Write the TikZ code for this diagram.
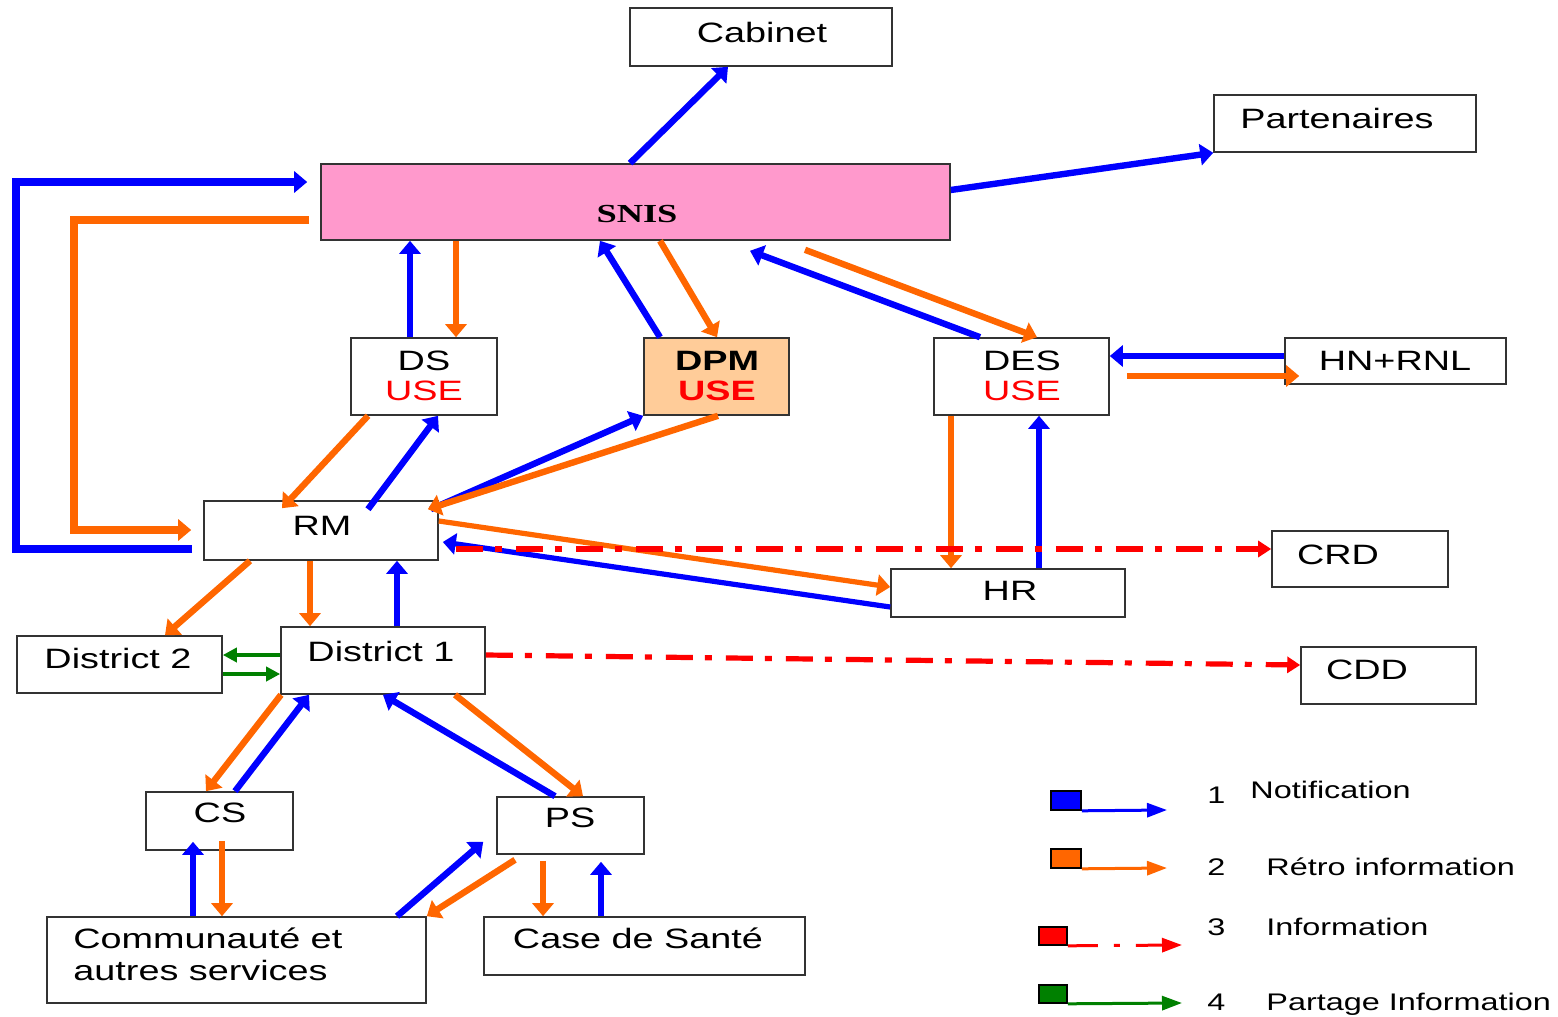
\documentclass[tikz,border=0pt]{standalone}
\usepackage{fontspec}
\setmainfont{Liberation Sans}[FakeStretch=1.35]
\newfontfamily\snisfont{Liberation Serif}[FakeStretch=1.4]
\usepackage{tikz}
\usetikzlibrary{arrows.meta,calc,fit,positioning}
\definecolor{notifblue}{RGB}{0,0,255}
\definecolor{retroorange}{RGB}{255,102,0}
\definecolor{infored}{RGB}{255,0,0}
\definecolor{sharegreen}{RGB}{0,128,0}
\definecolor{snispink}{RGB}{255,153,204}
\definecolor{dpmpeach}{RGB}{255,204,153}

\begin{document}
\begin{tikzpicture}[x=0.5pt,y=-0.5pt,
    box/.style={draw=black!80, line width=0.8pt, inner sep=0pt},
    swatch/.style={draw=black, line width=0.8pt, inner sep=0pt},
    txt/.style={anchor=base, inner sep=0pt, font=\fontsize{14pt}{15pt}\selectfont},
    lgtxt/.style={anchor=base west, inner sep=0pt, font=\fontsize{12pt}{13pt}\selectfont},
    notif/.style={draw=notifblue, line width=3.2pt, -{Triangle[length=6.5pt,width=10.5pt]}},
    retro/.style={draw=retroorange, line width=3.2pt, -{Triangle[length=6.5pt,width=10.5pt]}},
    info/.style={draw=infored, line width=2.6pt, dash pattern=on 13.5pt off 6pt on 3.5pt off 7pt, -{Triangle[length=6.5pt,width=8pt]}},
    share/.style={draw=sharegreen, line width=2pt, -{Triangle[length=7pt,width=7pt]}}]

    \useasboundingbox (0,0) rectangle (1558,1017);

    % Boxes
    \node[box, fit={(630,8) (892,66)}] (cab) {};
    \node[box, fit={(1214,95) (1476,152)}] (part) {};
    \node[box, fill=snispink, fit={(321,164) (950,240)}] (snis) {};
    \node[box, fit={(351,338) (497,415)}] (ds) {};
    \node[box, fill=dpmpeach, fit={(644,338) (789,415)}] (dpm) {};
    \node[box, fit={(934,338) (1109,415)}] (des) {};
    \node[box, fit={(1285,338) (1506,384)}] (hn) {};
    \node[box, fit={(204,501) (438,560)}] (rm) {};
    \node[box, fit={(1272,531) (1448,587)}] (crd) {};
    \node[box, fit={(891,569) (1125,617)}] (hr) {};
    \node[box, fit={(17,636) (222,693)}] (dtwo) {};
    \node[box, fit={(281,627) (485,694)}] (done) {};
    \node[box, fit={(1301,647) (1476,704)}] (cdd) {};
    \node[box, fit={(146,792) (293,850)}] (cs) {};
    \node[box, fit={(497,797) (644,854)}] (ps) {};
    \node[box, fit={(47,917) (426,1003)}] (com) {};
    \node[box, fit={(484,917) (805,975)}] (case) {};

    % Labels
    \node[txt] (cabT) at (762,42) {Cabinet};
    \node[txt] (partT) at (1337,128) {Partenaires};
    \node[txt, font=\snisfont\fontsize{13pt}{14pt}\selectfont\bfseries] (snisT) at (637,222) {SNIS};
    \node[txt] (dsT) at (424,370) {DS};
    \node[txt, text=infored] (dsU) at (424,400) {USE};
    \node[txt, font=\fontsize{14pt}{15pt}\selectfont\bfseries] (dpmT) at (717,370) {DPM};
    \node[txt, text=infored, font=\fontsize{14pt}{15pt}\selectfont\bfseries] (dpmU) at (717,400) {USE};
    \node[txt] (desT) at (1022,370) {DES};
    \node[txt, text=infored] (desU) at (1022,400) {USE};
    \node[txt] (hnT) at (1395,370) {HN+RNL};
    \node[txt] (rmT) at (322,535) {RM};
    \node[txt] (crdT) at (1338,564) {CRD};
    \node[txt] (hrT) at (1010,600) {HR};
    \node[txt] (dtwoT) at (118,668) {District 2};
    \node[txt] (doneT) at (381,661) {District 1};
    \node[txt] (cddT) at (1367,679) {CDD};
    \node[txt] (csT) at (220,822) {CS};
    \node[txt] (psT) at (570,827) {PS};
    \node[txt, anchor=base west] (comT) at (73,948) {Communauté et};
    \node[txt, anchor=base west] (comU) at (73,980) {autres services};
    \node[txt] (caseT) at (638,948) {Case de Santé};

    % Notification (blue)
    \draw[notif] (630,0 |- snis.north) -- (728,0 |- cab.south);
    \draw[notif] (snis.east |- 0,190) -- (part.south west);
    \draw[notif, line width=4.2pt] ($(rm.west |- 0,549)+(-11,0)$) -| (16,182) -- ($(snis.west |- 0,182)+(-13,0)$);
    \draw[notif] (410,0 |- ds.north) -- (410,0 |- snis.south);
    \draw[notif] (660,0 |- dpm.north) -- (600,0 |- snis.south);
    \draw[notif] (980,0 |- des.north) -- ($(750,0 |- snis.south)+(0,10)$);
    \draw[notif] (hn.west |- 0,356) -- (des.east |- 0,356);
    \draw[notif] (1039,0 |- hr.north) -- (1039,0 |- des.south);
    \draw[notif] ($(368,0 |- rm.north)+(0,9)$) -- (438,0 |- ds.south);
    \draw[notif] ($(rm.north east)+(-8,9)$) -- (dpm.south west);
    \draw[notif, line width=2.6pt] (hr.west |- 0,607) -- ($(rm.east |- 0,542)+(4,0)$);
    \draw[notif] (397,0 |- done.north) -- (397,0 |- rm.south);
    \draw[notif] (235,0 |- cs.north) -- (309,0 |- done.south);
    \draw[notif] (555,0 |- ps.north) -- (383,0 |- done.south);
    \draw[notif] (193,0 |- com.north) -- ($(193,0 |- cs.south)+(0,-9)$);
    \draw[notif] (397,0 |- com.north) -- ($(ps.south west)+(-13,-13)$);
    \draw[notif] (601,0 |- case.north) -- ($(601,0 |- ps.south)+(0,7)$);

    % Retro information (orange)
    \draw[retro, line width=4.2pt] ($(snis.west |- 0,220)+(-11,0)$) -| (74,530) -- ($(rm.west |- 0,530)+(-12,0)$);
    \draw[retro] (456,0 |- snis.south) -- (456,0 |- ds.north);
    \draw[retro] (660,0 |- snis.south) -- (717,0 |- dpm.north);
    \draw[retro] ($(805,0 |- snis.south)+(0,9)$) -- (1037,0 |- des.north);
    \draw[retro] ($(des.east |- 0,376)+(17,0)$) -- ($(hn.west |- 0,376)+(15,0)$);
    \draw[retro] (951,0 |- des.south) -- (951,0 |- hr.north);
    \draw[retro] (368,0 |- ds.south) -- ($(282,0 |- rm.north)+(0,8)$);
    \draw[retro] (718,0 |- dpm.south) -- ($(rm.north east)+(-11,9)$);
    \draw[retro, line width=2.6pt] (rm.east |- 0,521) -- (hr.west |- 0,587);
    \draw[retro] (250,0 |- rm.south) -- (165,0 |- dtwo.north);
    \draw[retro] (310,0 |- rm.south) -- (310,0 |- done.north);
    \draw[retro] (281,0 |- done.south) -- (206,0 |- cs.north);
    \draw[retro] (455,0 |- done.south) -- (583,0 |- ps.north);
    \draw[retro] ($(222,0 |- cs.south)+(0,-10)$) -- (222,0 |- com.north);
    \draw[retro] ($(515,0 |- ps.south)+(0,5)$) -- (com.north east);
    \draw[retro] ($(543,0 |- ps.south)+(0,6)$) -- (543,0 |- case.north);

    % Information (red)
    \draw[info] ($(rm.east |- 0,549)+(17,0)$) -- (crd.west |- 0,549);
    \draw[info] (done.east |- 0,655) -- (cdd.west |- 0,665);

    % Partage (green)
    \draw[share] (done.west |- 0,655) -- (dtwo.east |- 0,655);
    \draw[share] (dtwo.east |- 0,674) -- (done.west |- 0,674);

    % Legend
    \node[swatch, fill=notifblue, fit={(1051,791) (1081,810)}] (lgNotif) {};
    \node[swatch, fill=retroorange, fit={(1051,849) (1081,868)}] (lgRetro) {};
    \node[swatch, fill=infored, fit={(1039,927) (1067,945)}] (lgInfo) {};
    \node[swatch, fill=sharegreen, fit={(1039,985) (1067,1003)}] (lgShare) {};
    \coordinate (lgNotifEnd) at (1167,810);
    \coordinate (lgRetroEnd) at (1167,868);
    \coordinate (lgInfoEnd) at (1182,945);
    \coordinate (lgShareEnd) at (1182,1003);
    \draw[notif, line width=1.5pt, -{Triangle[length=10pt,width=7pt]}] (lgNotif.south east) -- (lgNotifEnd);
    \draw[retro, line width=1.5pt, -{Triangle[length=10pt,width=7pt]}] (lgRetro.south east) -- (lgRetroEnd);
    \draw[info, line width=1.5pt, dash pattern=on 15pt off 8pt on 3pt off 8pt, -{Triangle[length=10pt,width=7pt]}] (lgInfo.south east) -- (lgInfoEnd);
    \draw[share, line width=1.5pt, -{Triangle[length=10pt,width=7pt]}] (lgShare.south east) -- (lgShareEnd);

    \node[lgtxt] (lgNotifN) at (1207,803) {1};
    \node[lgtxt] (lgNotifT) at (1250,798) {Notification};
    \node[lgtxt] (lgRetroN) at (1207,875) {2};
    \node[lgtxt] (lgRetroT) at (1266,875) {Rétro information};
    \node[lgtxt] (lgInfoN) at (1207,935) {3};
    \node[lgtxt] (lgInfoT) at (1266,935) {Information};
    \node[lgtxt] (lgShareN) at (1207,1010) {4};
    \node[lgtxt] (lgShareT) at (1266,1010) {Partage Information};
\end{tikzpicture}
\end{document}
